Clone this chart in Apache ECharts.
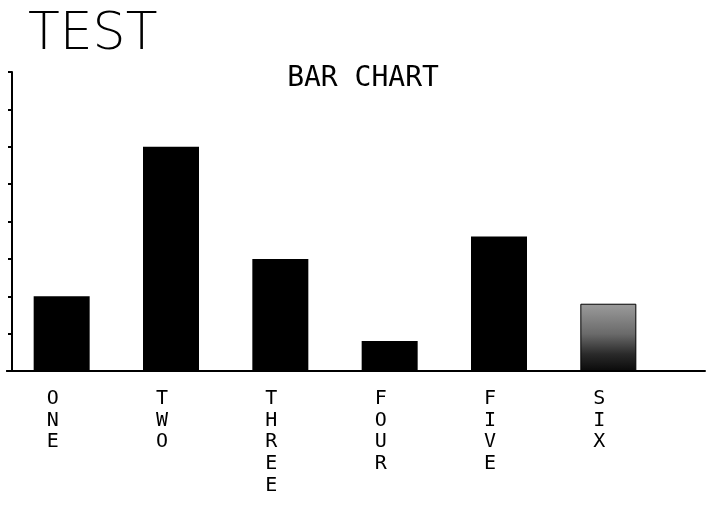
<!DOCTYPE html>
<html>
<head>
<meta charset="utf-8">
<script src="https://cdn.jsdelivr.net/npm/echarts@6/dist/echarts.min.js"></script>
<style>
html,body{margin:0;padding:0;background:#fff;}
#chart{width:706px;height:510px;}
</style>
</head>
<body>
<div id="chart"></div>
<script>
// ---- data ----
var categories = ['ONE', 'TWO', 'THREE', 'FOUR', 'FIVE', 'SIX'];
var values = [2, 6, 3, 0.8, 3.6, 1.8];
var yMin = 0, yMax = 8, yStep = 1;
var titleText = 'TEST';
var subtitleText = 'BAR CHART';

var chart = echarts.init(document.getElementById('chart'), null, {renderer: 'canvas'});

var barData = values.map(function (v, i) {
  if (i === 5) {
    return {
      value: v,
      itemStyle: {
        color: new echarts.graphic.LinearGradient(0, 0, 0, 1, [
          {offset: 0, color: '#9c9c9c'},
          {offset: 0.45, color: '#6a6a6a'},
          {offset: 0.75, color: '#2a2a2a'},
          {offset: 1, color: '#0a0a0a'}
        ]),
        borderColor: '#000',
        borderWidth: 1
      }
    };
  }
  return v;
});

var option = {
  backgroundColor: '#fff',
  animation: false,
  title: [
    {
      text: titleText, left: 23, top: 4,
      textStyle: {fontFamily: 'DejaVu Sans', fontSize: 52, fontWeight: 200, color: '#000'}
    },
    {
      text: subtitleText, left: 358, top: 60, textAlign: 'center',
      textStyle: {fontFamily: 'DejaVu Sans Mono', fontSize: 28, fontWeight: 'normal', color: '#000'}
    }
  ],
  grid: [
    {left: 7, right: 43, top: 72, bottom: 139},
    {left: 7, right: 1, top: 72, bottom: 139}
  ],
  xAxis: [
    {
      type: 'category', gridIndex: 0, data: categories,
      axisLine: {show: true, lineStyle: {color: '#000', width: 2}},
      axisTick: {show: false},
      axisLabel: {
        color: '#000', fontFamily: 'DejaVu Sans Mono', fontSize: 20, lineHeight: 21.7,
        margin: 17, interval: 0, padding: [0, 18, 0, 0],
        formatter: function (v) { return v.split('').join('\n'); }
      },
      splitLine: {show: false}
    },
    {
      type: 'value', gridIndex: 1, min: 0, max: 1,
      axisLine: {show: true, onZero: false, lineStyle: {color: '#000', width: 2}},
      axisTick: {show: false}, axisLabel: {show: false}, splitLine: {show: false}
    }
  ],
  yAxis: [
    {
      type: 'value', gridIndex: 0, min: yMin, max: yMax, interval: yStep, offset: -5,
      axisLine: {show: true, lineStyle: {color: '#000', width: 2}},
      axisTick: {show: true, inside: false, length: 4, lineStyle: {color: '#000', width: 2}},
      axisLabel: {show: false},
      splitLine: {show: false}
    },
    {type: 'value', gridIndex: 1, min: 0, max: 1, show: false}
  ],
  series: [
    {
      type: 'bar', xAxisIndex: 0, yAxisIndex: 0,
      data: barData, barWidth: 56,
      itemStyle: {color: '#000'}
    }
  ]
};
chart.setOption(option);
</script>
</body>
</html>
